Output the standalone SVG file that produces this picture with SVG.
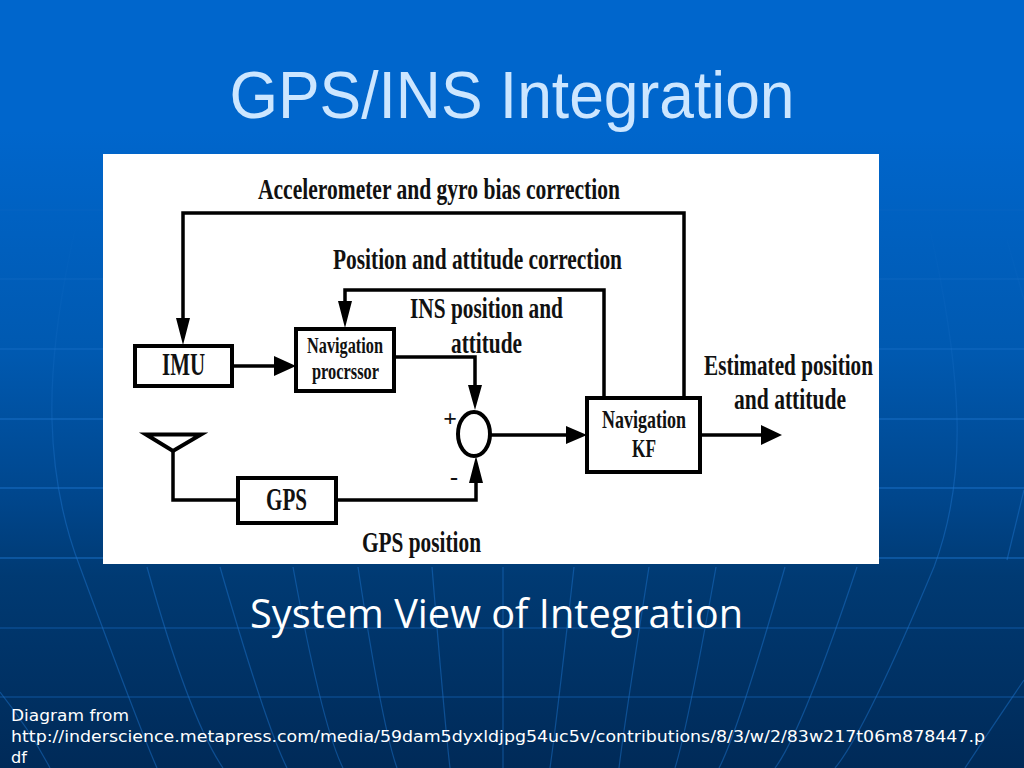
<svg xmlns="http://www.w3.org/2000/svg" width="1024" height="768" viewBox="0 0 1024 768">
<style>
.box{fill:#fff;stroke:#000;stroke-width:4}
.wire{fill:none;stroke:#000;stroke-width:3.500}
.head{fill:#000;stroke:none}
.lab{font-family:"Liberation Serif","Times New Roman",serif;font-weight:bold;fill:#111}
.l27{font-size:30px}
.l20{font-size:23px}
.l25{font-size:25px}
.l31{font-size:31px}
.hl{stroke:#1a70c8;stroke-width:1.300;fill:none;opacity:.65}
.mer{stroke:url(#merFade);stroke-width:1.200;fill:none}
</style>
<defs>
<linearGradient id="bg" x1="0" y1="0" x2="0" y2="1">
<stop offset="0" stop-color="#0066cc"/>
<stop offset=".17" stop-color="#0066cc"/>
<stop offset=".46" stop-color="#0059b0"/>
<stop offset=".65" stop-color="#00468c"/>
<stop offset=".75" stop-color="#003a73"/>
<stop offset="1" stop-color="#002a58"/>
</linearGradient>
<linearGradient id="merFade" gradientUnits="userSpaceOnUse" x1="0" y1="210" x2="0" y2="500">
<stop offset="0" stop-color="#1a70c8" stop-opacity="0"/>
<stop offset="1" stop-color="#1a70c8" stop-opacity=".5"/>
</linearGradient>
</defs>
<rect id="background" width="1024" height="768" fill="url(#bg)"/>
<g id="globe-lines">
<path class="hl" style="opacity:.15" d="M0 210H1024"/>
<path class="hl" style="opacity:.3" d="M0 279H1024"/>
<path class="hl" style="opacity:.5" d="M0 349H1024"/>
<path class="hl" d="M0 419H1024M0 488H1024M0 558H1024"/>
<path class="hl" style="opacity:.4" d="M0 628H1024M0 697H1024"/>
<path class="mer" d="M75 230Q50 340 52 420T80 567Q141 732 157 768"/>
<path class="mer" d="M147 567Q189 718 223 768M220 567Q266 726 287 768M293 567Q322 726 343 768M358 567Q382 726 397 768M432 567Q445 726 450 768M503 567V768M574 567Q556 726 550 768M649 567Q624 726 619 768M716 567Q688 726 675 768M785 567Q738 732 719 768M857 567Q802 732 775 768"/>
<path class="mer" d="M930 230Q955 340 957 420T934 567Q865 732 835 768"/>
<path class="mer" d="M1024 680Q990 730 965 768M1007 240L1024 300M1024 490L1007 560"/>
<path class="mer" d="M0 692Q30 730 50 768"/>
</g>
<text id="title" x="512" y="118" text-anchor="middle" textLength="565" lengthAdjust="spacingAndGlyphs" font-family="'Liberation Sans',Arial,sans-serif" font-size="66" fill="#cce6ff">GPS/INS Integration</text>
<rect id="figure" x="103" y="154" width="776" height="410" fill="#fff"/>
<g id="connectors">
<path class="wire" d="M684 397V213H183V322"/>
<path class="wire" d="M604 397V290H345V305"/>
<path class="wire" d="M232 366H278"/>
<path class="wire" d="M394 357H475V388"/>
<path class="wire" d="M491 435H570"/>
<path class="wire" d="M700 435H765"/>
<path class="wire" d="M336 500H476V480"/>
<path class="wire" d="M173 451V500H238"/>
<path class="head" d="M176 318H190L183 345ZM338 301H352L345 328ZM274 356L296 366L274 376ZM468 385H482L475 410ZM566 426L587 435L566 444ZM761 425L782 435L761 445ZM469 483H483L476 456Z"/>
</g>
<g id="node-imu"><rect class="box" x="135" y="346" width="97" height="40"/><text class="lab l31" x="162" y="375" textLength="43" lengthAdjust="spacingAndGlyphs">IMU</text></g>
<g id="node-navproc"><rect class="box" x="296" y="329" width="98" height="62"/><text class="lab l20" x="307" y="353" textLength="76" lengthAdjust="spacingAndGlyphs">Navigation</text><text class="lab l20" x="312" y="379" textLength="67" lengthAdjust="spacingAndGlyphs">procrssor</text></g>
<g id="node-sum"><ellipse cx="474" cy="434" rx="16" ry="22" fill="#fff" stroke="#000" stroke-width="4"/></g>
<g id="node-kf"><rect class="box" x="587" y="398" width="113" height="74"/><text class="lab l25" x="602" y="428" textLength="84" lengthAdjust="spacingAndGlyphs">Navigation</text><text class="lab l25" x="632" y="457" textLength="24" lengthAdjust="spacingAndGlyphs">KF</text></g>
<g id="node-gps"><rect class="box" x="238" y="478" width="98" height="45"/><text class="lab l31" x="266" y="510" textLength="41" lengthAdjust="spacingAndGlyphs">GPS</text></g>
<g id="node-antenna"><path d="M146 434.500H201L173 451Z" fill="#fff" stroke="#000" stroke-width="4"/></g>
<g id="labels">
<text class="lab l27" x="258" y="199" textLength="362" lengthAdjust="spacingAndGlyphs">Accelerometer and gyro bias correction</text>
<text class="lab l27" x="333" y="269" textLength="289" lengthAdjust="spacingAndGlyphs">Position and attitude correction</text>
<text class="lab l27" x="410" y="318" textLength="153" lengthAdjust="spacingAndGlyphs">INS position and</text>
<text class="lab l27" x="451" y="353" textLength="71" lengthAdjust="spacingAndGlyphs">attitude</text>
<text class="lab l27" x="704" y="375" textLength="169" lengthAdjust="spacingAndGlyphs">Estimated position</text>
<text class="lab l27" x="734" y="409" textLength="112" lengthAdjust="spacingAndGlyphs">and attitude</text>
<text class="lab l27" x="362" y="552" textLength="119" lengthAdjust="spacingAndGlyphs">GPS position</text>
<text class="lab" font-size="24" x="450" y="426" text-anchor="middle">+</text>
<text class="lab" font-size="24" x="454" y="485" text-anchor="middle">-</text>
</g>
<text id="caption" x="250" y="628" textLength="493" lengthAdjust="spacingAndGlyphs" font-family="'Open Sans','Noto Sans',sans-serif" font-size="40" fill="#fff">System View of Integration</text>
<g id="footnote" font-family="'DejaVu Sans',Verdana,sans-serif" font-size="16.500" fill="#fff">
<text x="11" y="721" textLength="118" lengthAdjust="spacingAndGlyphs">Diagram from</text>
<text x="11" y="742" textLength="974" lengthAdjust="spacingAndGlyphs">http://inderscience.metapress.com/media/59dam5dyxldjpg54uc5v/contributions/8/3/w/2/83w217t06m878447.p</text>
<text x="11" y="763" textLength="16" lengthAdjust="spacingAndGlyphs">df</text>
</g>
</svg>
